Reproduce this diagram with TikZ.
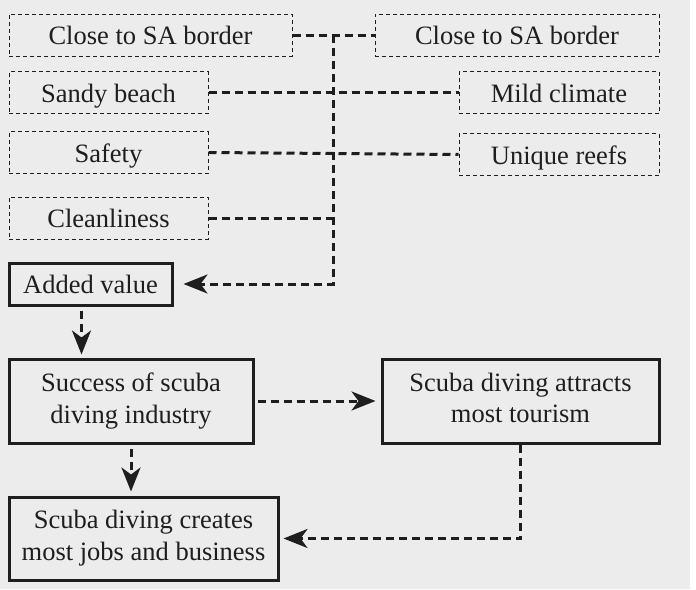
\documentclass[tikz,border=0pt]{standalone}
\usepackage{fontspec}
\setmainfont{Liberation Serif}
\newfontfamily\boxfont{Liberation Serif}
\usetikzlibrary{arrows.meta,positioning}
\definecolor{bgc}{HTML}{ECECEC}
\definecolor{ink}{HTML}{1E1E1E}

\begin{document}
\begin{tikzpicture}[x=1pt,y=-1pt,
    font=\boxfont\fontsize{26.5}{31.5}\selectfont,
    factor/.style={draw=ink, line width=1pt, dash pattern=on 4pt off 3pt,
        minimum height=42pt, inner sep=0pt, text=ink,
        text height=19pt, text depth=0pt},
    result/.style={draw=ink, line width=3pt, align=center,
        inner sep=0pt, text=ink},
    link/.style={draw=ink, line width=3pt, dash pattern=on 8pt off 5pt},
    arrow/.style={link, -{Stealth[length=24pt,width=19pt,inset=7pt]}}]

    \useasboundingbox (0,0) rectangle (696,589);
    \fill[bgc] (0,0) rectangle (690,589);

    % factors
    \node[factor, minimum width=283pt] (border1) at (150.5,35) {Close to SA border};
    \node[factor, minimum width=199pt] (sandy)   at (108.5,92.5) {Sandy beach};
    \node[factor, minimum width=199pt] (safety)  at (108.5,152.5) {Safety};
    \node[factor, minimum width=199pt] (clean)   at (108.5,218) {Cleanliness};
    \node[factor, minimum width=284pt] (border2) at (517,35) {Close to SA border};
    \node[factor, minimum width=200pt] (mild)    at (559,92.5) {Mild climate};
    \node[factor, minimum width=200pt] (reefs)   at (559,154.5) {Unique reefs};

    % outcomes
    \node[result, minimum width=163pt, minimum height=42pt,
        text height=19pt, text depth=0pt] (added) at (90.5,284) {Added value};
    \node[result, minimum width=244pt, minimum height=84pt, text depth=6pt]
        (success) at (131,401) {Success of scuba\\diving industry};
    \node[result, minimum width=277pt, minimum height=84pt, text depth=6pt]
        (attract) at (520.5,401) {Scuba diving attracts\\most tourism};
    \node[result, minimum width=269pt, minimum height=83pt, text depth=6pt]
        (jobs) at (143.5,538.5) {Scuba diving creates\\most jobs and business};

    \coordinate (hub) at (333,35);

    \draw[link] (border1.east) -- (border2.west);
    \draw[link] (sandy.east) -- (mild.west);
    \draw[link] (safety.east) -- (reefs.west);
    \draw[link] (clean.east) -- (clean.east -| hub);
    \draw[arrow, shorten >=10pt] (hub) |- (added.east);

    \draw[arrow, shorten <=4pt, shorten >=3pt]
        ([xshift=-9pt]added.south) -- ([xshift=-9pt]added.south |- success.north);
    \draw[arrow, shorten <=3pt, shorten >=5pt] (success.east) -- (attract.west);
    \draw[arrow, shorten <=4pt, shorten >=4pt]
        (success.south) -- (success.south |- jobs.north);
    \draw[arrow, shorten >=4pt] (attract.south) |- (jobs.east);
\end{tikzpicture}
\end{document}
